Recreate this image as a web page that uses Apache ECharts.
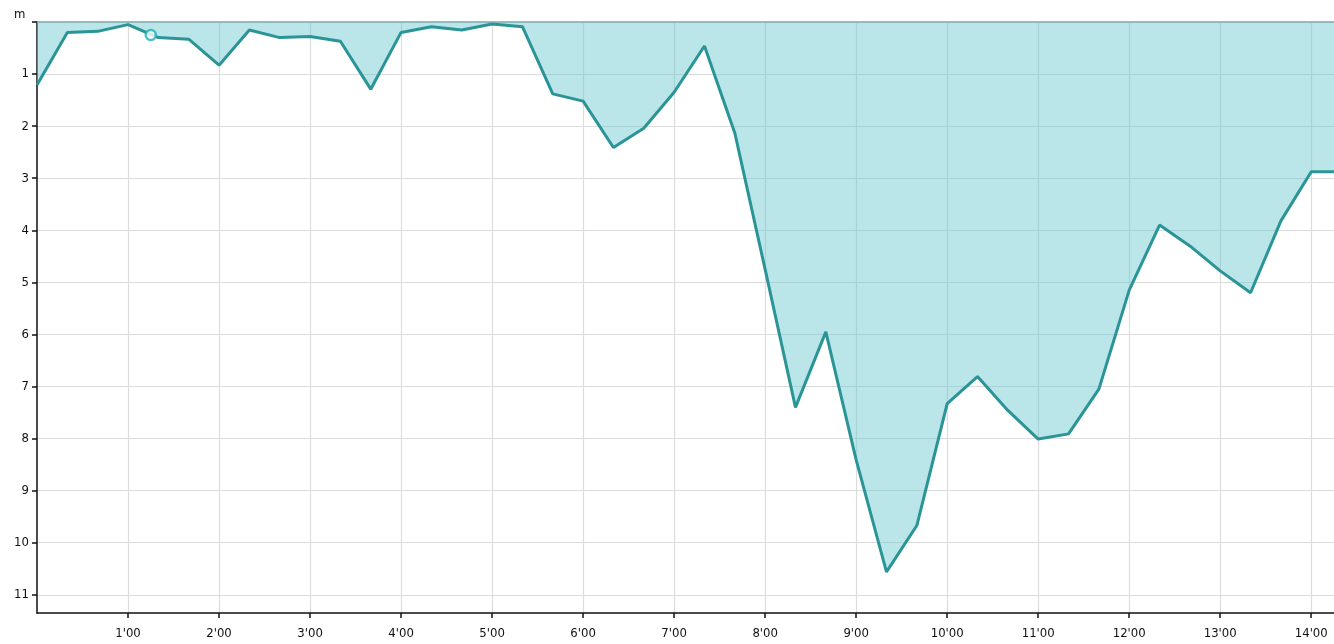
<!DOCTYPE html>
<html>
<head>
<meta charset="utf-8">
<script src="https://cdn.jsdelivr.net/npm/echarts@6/dist/echarts.min.js"></script>
<style>
html,body{margin:0;padding:0;background:#fff;}
#c{width:1334px;height:644px;}
</style>
</head>
<body>
<div id="c"></div>
<script>
// time in seconds since start of dive
var timeSec = [0,20,40,60,80,100,120,140,160,180,200,220,240,260,280,300,320,340,360,380,400,420,440,460,480,500,520,540,560,580,600,620,640,660,680,700,720,740,760,780,800,820,840,855];
// depth in metres
var depth = [1.21,0.20,0.18,0.05,0.30,0.33,0.83,0.155,0.30,0.28,0.37,1.29,0.20,0.09,0.155,0.04,0.09,1.38,1.52,2.41,2.04,1.35,0.46,2.13,4.75,7.40,5.95,8.41,10.56,9.67,7.33,6.81,7.46,8.01,7.91,7.05,5.15,3.90,4.30,4.78,5.20,3.82,2.875,2.875];
// x tick positions (seconds) and y tick values (metres)
var xTicks = [60,120,180,240,300,360,420,480,540,600,660,720,780,840];
var yTicks = [0,1,2,3,4,5,6,7,8,9,10,11];
// highlighted point
var markerPoint = [75, 0.25];
var yAxisName = 'm';

var chart = echarts.init(document.getElementById('c'), null, {renderer:'canvas'});
var font = 'DejaVu Sans Condensed';
var pts = timeSec.map(function(t,i){return [t, depth[i]];});

chart.setOption({
  animation:false,
  backgroundColor:'#fff',
  title:{text:yAxisName,left:9,top:3,textStyle:{fontFamily:font,fontSize:13,fontWeight:'normal',color:'#111'}},
  grid:{left:37,right:0,top:22,bottom:31,containLabel:false},
  xAxis:[{
    type:'value',min:0,max:855,interval:60,position:'bottom',
    axisLine:{show:true,onZero:false,lineStyle:{color:'#111',width:1.5}},
    axisTick:{show:true,length:5,customValues:xTicks,lineStyle:{color:'#111',width:1.5}},
    axisLabel:{margin:14,fontFamily:font,fontSize:13,color:'#111',customValues:xTicks,
      formatter:function(v){ return (v/60)+"'00"; }},
    splitLine:{show:true,lineStyle:{color:'#dcdcdc',width:1.2}}
  },{
    type:'value',min:0,max:855,position:'top',
    axisLine:{show:true,onZero:false,lineStyle:{color:'#999',width:1.5}},
    axisTick:{show:false},axisLabel:{show:false},splitLine:{show:false}
  }],
  yAxis:{
    type:'value',inverse:true,min:0,max:11.35,interval:1,
    axisLine:{show:true,onZero:false,lineStyle:{color:'#111',width:1.5}},
    axisTick:{show:true,length:5,customValues:yTicks,lineStyle:{color:'#111',width:1.5}},
    axisLabel:{margin:8,fontFamily:font,fontSize:13,color:'#111',customValues:yTicks.slice(1),
      formatter:function(v){ return String(Math.round(v)); }},
    splitLine:{show:true,lineStyle:{color:'#dcdcdc',width:1.2}}
  },
  series:[{
    type:'line',data:pts,showSymbol:false,symbol:'none',z:3,
    lineStyle:{color:'#2a9497',width:3},
    areaStyle:{color:'rgba(108,202,208,0.47)',opacity:1,origin:'start'}
  },{
    type:'scatter',data:[markerPoint],symbol:'circle',symbolSize:10,z:5,
    itemStyle:{color:'#fff',borderColor:'#1fb1bc',borderWidth:2.5}
  }]
});
</script>
</body>
</html>
